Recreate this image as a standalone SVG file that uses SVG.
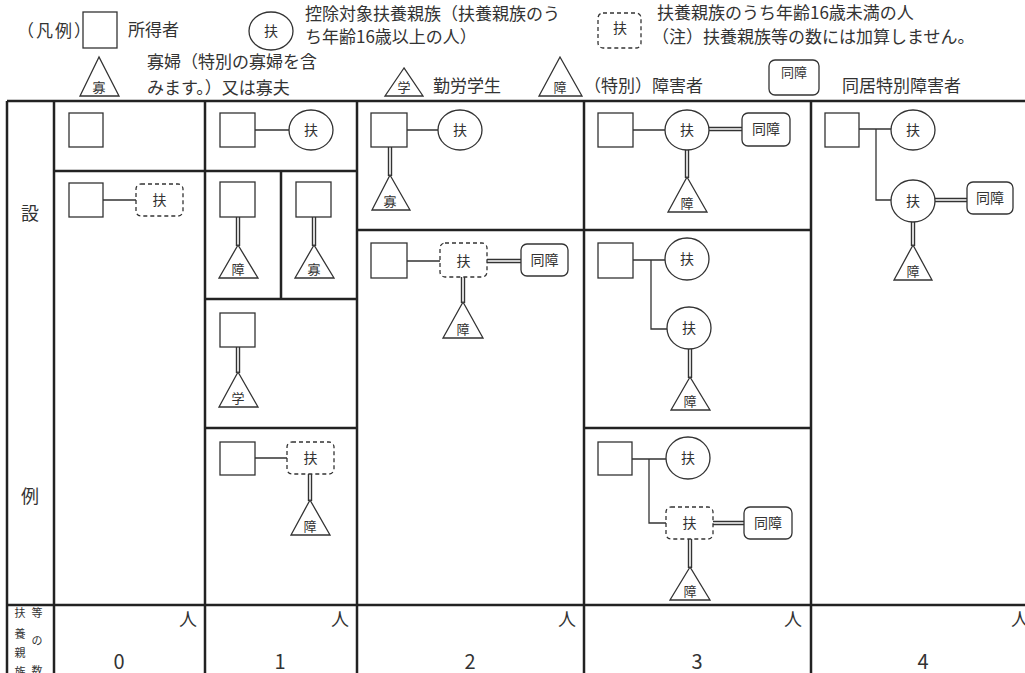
<svg xmlns="http://www.w3.org/2000/svg" width="1025" height="673" viewBox="0 0 1025 673">
<style>
text{font-family:"Noto Sans CJK JP","Noto Sans",sans-serif;fill:#333}
.t17{font-size:17px}
.big{font-size:18px;text-anchor:middle}
.num{font-size:20px;text-anchor:middle}
.nl{font-size:14px;text-anchor:middle}
.tl{font-size:13px;text-anchor:middle}
.vt{font-size:11px;text-anchor:middle}
.tbl{stroke:#222;stroke-width:2.5;fill:none}
.nd{fill:#fff;stroke:#333;stroke-width:1.3}
.ds{stroke-dasharray:4 3}
.ln{stroke:#333;stroke-width:1.3;fill:none}
.dbo{stroke:#333;stroke-width:4.4;fill:none}
.dbi{stroke:#fff;stroke-width:1.6;fill:none}
</style>
<rect width="1025" height="673" fill="#fff"/>
<g id="table">
<path class="tbl" d="M7,101 H1025 M7,101 V673 M54,101 V673 M205,101 V673 M357,101 V673 M584,101 V673 M811,101 V673 M7,605 H1025 M54,171 H357 M281,171 V299 M205,299 H357 M205,428 H357 M357,230 H811 M584,428 H811"/>
<text class="big" x="30" y="220">設</text>
<text class="big" x="30" y="503">例</text>
<text class="vt"><tspan x="20" y="617">扶</tspan><tspan x="20" y="638">養</tspan><tspan x="20" y="657">親</tspan><tspan x="20" y="676">族</tspan></text>
<text class="vt"><tspan x="37" y="617">等</tspan><tspan x="37" y="645">の</tspan><tspan x="37" y="675">数</tspan></text>
<text class="big" x="188" y="626">人</text>
<text class="big" x="340" y="626">人</text>
<text class="big" x="567" y="626">人</text>
<text class="big" x="793" y="626">人</text>
<text class="big" x="1020" y="626">人</text>
<text class="num" x="119" y="669">0</text>
<text class="num" x="280" y="669">1</text>
<text class="num" x="470" y="669">2</text>
<text class="num" x="697" y="669">3</text>
<text class="num" x="923" y="669">4</text>
</g>
<g id="legend">
<text class="t17" x="17" y="37" letter-spacing="2">（凡例）</text>
<rect class="nd" x="83" y="12" width="34" height="36"/>
<text class="t17" x="128" y="36">所得者</text>
<ellipse class="nd" cx="271" cy="31" rx="22" ry="19"/>
<text class="nl" x="271" y="36">扶</text>
<text class="t17" x="305" y="20">控除対象扶養親族（扶養親族のう</text>
<text class="t17" x="305" y="43">ち年齢16歳以上の人）</text>
<rect class="nd ds" x="598" y="13" width="43" height="35" rx="5"/>
<text class="nl" x="620" y="33">扶</text>
<text class="t17" x="657" y="19">扶養親族のうち年齢16歳未満の人</text>
<text class="t17" x="652" y="43">（注）扶養親族等の数には加算しません。</text>
<polygon class="nd" points="99,57 80,96 119,96"/>
<text class="tl" x="99" y="92">寡</text>
<text class="t17" x="147" y="68">寡婦（特別の寡婦を含</text>
<text class="t17" x="147" y="94">みます。）又は寡夫</text>
<polygon class="nd" points="404,68 385,96 423,96"/>
<text class="tl" x="404" y="92">学</text>
<text class="t17" x="433" y="92">勤労学生</text>
<polygon class="nd" points="560,57 539,96 582,96"/>
<text class="tl" x="560" y="92">障</text>
<text class="t17" x="584" y="92">（特別）障害者</text>
<rect class="nd" x="769" y="60" width="50" height="35" rx="6"/>
<text class="tl" x="794" y="77">同障</text>
<text class="t17" x="842" y="92">同居特別障害者</text>
</g>
<g id="connectors">
<path class="ln" d="M103,200 H136 M255,130 H289 M255,458 H287 M407,130 H438 M407,261 H440 M633,130 H665 M633,260 H665 M651,260 V329 H667 M632,459 H666 M649,459 V523 H666 M859,129 H891 M876,129 V200 H891"/>
<path class="dbo" d="M238,217 V246 M314,217 V246 M238,347 V373 M310,474 V501 M390,147 V176 M487,261 H521 M463,277 V303 M709,129 H742 M687,150 V178 M690,349 V378 M713,523 H744 M690,539 V568 M935,200 H967 M913,222 V246"/>
<path class="dbi" d="M238,217 V246 M314,217 V246 M238,347 V373 M310,474 V501 M390,147 V176 M487,261 H521 M463,277 V303 M709,129 H742 M687,150 V178 M690,349 V378 M713,523 H744 M690,539 V568 M935,200 H967 M913,222 V246"/>
</g>
<g id="c0r1"><rect class="nd" x="69" y="113" width="34" height="34"/></g>
<g id="c0r2">
<rect class="nd" x="69" y="183" width="34" height="34"/>
<rect class="nd ds" x="136" y="184" width="47" height="32" rx="5"/>
<text class="nl" x="159.5" y="205">扶</text>
</g>
<g id="c1r1">
<rect class="nd" x="220" y="113" width="35" height="34"/>
<ellipse class="nd" cx="311" cy="130" rx="22" ry="20"/>
<text class="nl" x="311" y="135">扶</text>
</g>
<g id="c1r2a">
<rect class="nd" x="220" y="182" width="35" height="35"/>
<polygon class="nd" points="238,245 219,278 258,278"/>
<text class="tl" x="238" y="274">障</text>
</g>
<g id="c1r2b">
<rect class="nd" x="296" y="182" width="35" height="35"/>
<polygon class="nd" points="314,245 295,278 334,278"/>
<text class="tl" x="314" y="274">寡</text>
</g>
<g id="c1r3">
<rect class="nd" x="220" y="313" width="35" height="34"/>
<polygon class="nd" points="238,372 219,407 258,407"/>
<text class="tl" x="238" y="403">学</text>
</g>
<g id="c1r4">
<rect class="nd" x="220" y="442" width="35" height="33"/>
<rect class="nd ds" x="287" y="442" width="47" height="32" rx="5"/>
<text class="nl" x="310.5" y="463">扶</text>
<polygon class="nd" points="310,500 291,535 330,535"/>
<text class="tl" x="310" y="531">障</text>
</g>
<g id="c2r1">
<rect class="nd" x="371" y="113" width="36" height="34"/>
<ellipse class="nd" cx="460" cy="130" rx="22" ry="20"/>
<text class="nl" x="460" y="135">扶</text>
<polygon class="nd" points="390,175 372,210 410,210"/>
<text class="tl" x="390" y="206">寡</text>
</g>
<g id="c2r2">
<rect class="nd" x="371" y="243" width="36" height="35"/>
<rect class="nd ds" x="440" y="243" width="47" height="34" rx="5"/>
<text class="nl" x="463.5" y="266">扶</text>
<rect class="nd" x="521" y="244" width="47" height="32" rx="6"/>
<text class="nl" x="544.5" y="265">同障</text>
<polygon class="nd" points="463,302 443,338 483,338"/>
<text class="tl" x="463" y="334">障</text>
</g>
<g id="c3r1">
<rect class="nd" x="598" y="113" width="35" height="34"/>
<ellipse class="nd" cx="687" cy="130" rx="22" ry="20"/>
<text class="nl" x="687" y="135">扶</text>
<rect class="nd" x="742" y="113" width="48" height="33" rx="6"/>
<text class="nl" x="766" y="134">同障</text>
<polygon class="nd" points="687,177 668,212 707,212"/>
<text class="tl" x="687" y="208">障</text>
</g>
<g id="c3r2">
<rect class="nd" x="598" y="243" width="35" height="35"/>
<ellipse class="nd" cx="687" cy="259" rx="22" ry="21"/>
<text class="nl" x="687" y="264">扶</text>
<ellipse class="nd" cx="689" cy="328" rx="22" ry="21"/>
<text class="nl" x="689" y="333">扶</text>
<polygon class="nd" points="690,377 671,410 710,410"/>
<text class="tl" x="690" y="406">障</text>
</g>
<g id="c3r3">
<rect class="nd" x="598" y="442" width="34" height="33"/>
<ellipse class="nd" cx="688" cy="458" rx="22" ry="21"/>
<text class="nl" x="688" y="463">扶</text>
<rect class="nd ds" x="666" y="507" width="47" height="32" rx="5"/>
<text class="nl" x="689.5" y="528">扶</text>
<rect class="nd" x="744" y="507" width="48" height="32" rx="6"/>
<text class="nl" x="768" y="528">同障</text>
<polygon class="nd" points="690,567 670,600 710,600"/>
<text class="tl" x="690" y="596">障</text>
</g>
<g id="c4">
<rect class="nd" x="825" y="113" width="34" height="34"/>
<ellipse class="nd" cx="913" cy="130" rx="22" ry="20"/>
<text class="nl" x="913" y="135">扶</text>
<ellipse class="nd" cx="913" cy="201" rx="22" ry="21"/>
<text class="nl" x="913" y="206">扶</text>
<rect class="nd" x="967" y="182" width="46" height="32" rx="6"/>
<text class="nl" x="990" y="203">同障</text>
<polygon class="nd" points="913,245 894,280 932,280"/>
<text class="tl" x="913" y="276">障</text>
</g>
</svg>
